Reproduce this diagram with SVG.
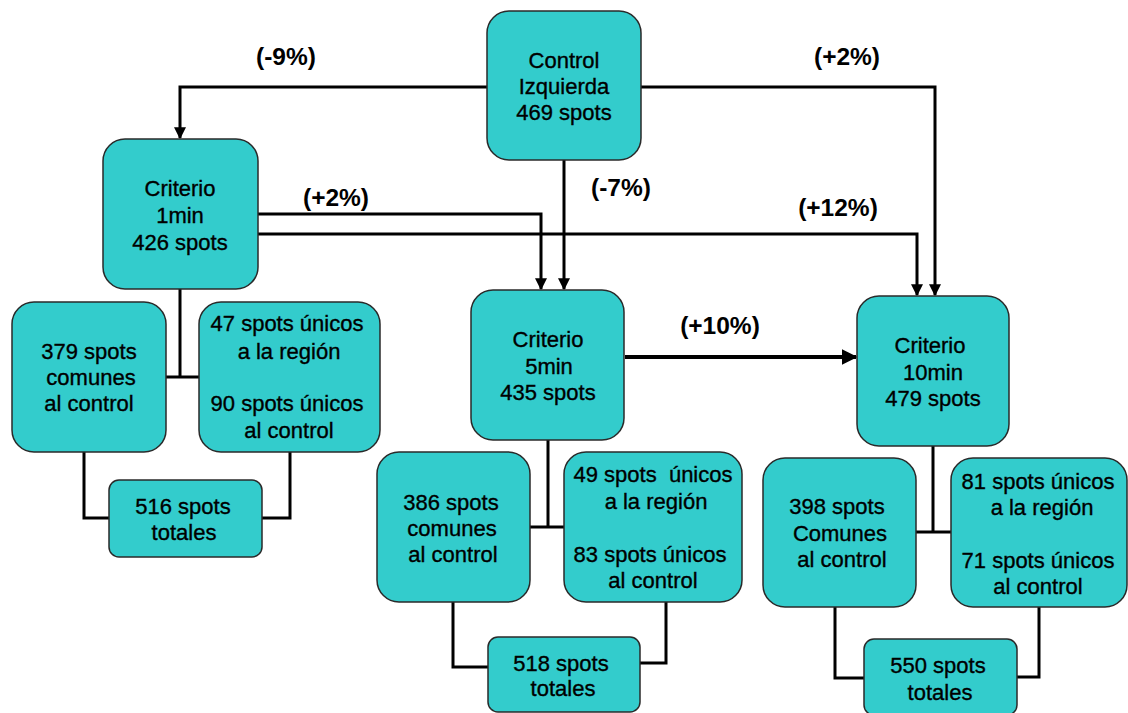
<svg xmlns="http://www.w3.org/2000/svg" width="1128" height="713" viewBox="0 0 1128 713">
  <defs>
    <marker id="arrow" viewBox="0 0 10 10" refX="9" refY="5" markerWidth="4" markerHeight="4" orient="auto" markerUnits="strokeWidth">
      <path d="M0,0 L10,5 L0,10 z" fill="#000"/>
    </marker>
    <style>
      .box { fill: #33CCCC; stroke: #2a2a2a; stroke-width: 1.5; }
      .t { font-family: "Liberation Sans", Arial, sans-serif; font-size: 22px; fill: #000; stroke: #000; stroke-width: 0.35; text-anchor: middle; white-space: pre; }
      .pct { font-family: "Liberation Sans", Arial, sans-serif; font-size: 24.5px; font-weight: bold; fill: #000; text-anchor: middle; }
      .link { fill: none; stroke: #000; stroke-width: 3; }
      .flow { fill: none; stroke: #000; stroke-width: 3; marker-end: url(#arrow); }
    </style>
  </defs>
  <rect width="1128" height="713" fill="#fff"/>

  <!-- connectors -->
  <g id="connectors">
    <path class="flow" d="M487,87 H180 V138"/>
    <path class="flow" d="M641,87 H935 V295"/>
    <path class="flow" d="M564,160 V289"/>
    <path class="flow" d="M258,214 H541 V289"/>
    <path class="flow" d="M252,234 H917 V295"/>
    <path class="flow" d="M625,357 H856" style="stroke-width:4"/>

    <path class="link" d="M180,289 V377 M166,377 H199"/>
    <path class="link" d="M84,452 V518 H109 M290,452 V518 H262"/>

    <path class="link" d="M548,440 V527 M530,527 H564"/>
    <path class="link" d="M453,602 V667 H488 M666,602 V663 H640"/>

    <path class="link" d="M933,446 V532 M916,532 H951"/>
    <path class="link" d="M835,607 V678 H864 M1039,607 V677 H1017"/>
  </g>

  <!-- percentage labels -->
  <g id="labels">
    <text class="pct" x="286" y="65">(-9%)</text>
    <text class="pct" x="847" y="65">(+2%)</text>
    <text class="pct" x="621" y="196">(-7%)</text>
    <text class="pct" x="336" y="206">(+2%)</text>
    <text class="pct" x="838" y="216">(+12%)</text>
    <text class="pct" x="720" y="334">(+10%)</text>
  </g>

  <g id="control">
    <rect class="box" x="487" y="11" width="154" height="149" rx="22"/>
    <text class="t" x="564" y="68">Control</text>
    <text class="t" x="564" y="94">Izquierda</text>
    <text class="t" x="564" y="120">469 spots</text>
  </g>

  <g id="criterio-1min">
    <rect class="box" x="103" y="139" width="155" height="150" rx="22"/>
    <text class="t" x="180" y="196">Criterio</text>
    <text class="t" x="180" y="223">1min</text>
    <text class="t" x="180" y="250">426 spots</text>
  </g>

  <g id="criterio-5min">
    <rect class="box" x="471" y="290" width="153" height="150" rx="22"/>
    <text class="t" x="548" y="347">Criterio</text>
    <text class="t" x="549" y="374">5min</text>
    <text class="t" x="548" y="400">435 spots</text>
  </g>

  <g id="criterio-10min">
    <rect class="box" x="857" y="296" width="152" height="150" rx="22"/>
    <text class="t" x="930" y="353">Criterio</text>
    <text class="t" x="933" y="380">10min</text>
    <text class="t" x="933" y="406">479 spots</text>
  </g>

  <g id="comunes-1min">
    <rect class="box" x="12" y="302" width="154" height="150" rx="22"/>
    <text class="t" x="89" y="359">379 spots</text>
    <text class="t" x="91" y="385">comunes</text>
    <text class="t" x="89" y="411">al control</text>
  </g>

  <g id="unicos-1min">
    <rect class="box" x="199" y="302" width="181" height="150" rx="22"/>
    <text class="t" x="287" y="331">47 spots únicos</text>
    <text class="t" x="289" y="359">a la región</text>
    <text class="t" x="287" y="411">90 spots únicos</text>
    <text class="t" x="289" y="438">al control</text>
  </g>

  <g id="totales-1min">
    <rect class="box" x="109" y="480" width="153" height="77" rx="10"/>
    <text class="t" x="183" y="514">516 spots</text>
    <text class="t" x="184" y="540">totales</text>
  </g>

  <g id="comunes-5min">
    <rect class="box" x="377" y="452" width="153" height="150" rx="22"/>
    <text class="t" x="451" y="510">386 spots</text>
    <text class="t" x="452" y="536">comunes</text>
    <text class="t" x="453" y="562">al control</text>
  </g>

  <g id="unicos-5min">
    <rect class="box" x="564" y="452" width="178" height="150" rx="22"/>
    <text class="t" x="653" y="482" xml:space="preserve">49 spots  únicos</text>
    <text class="t" x="656" y="509">a la región</text>
    <text class="t" x="650" y="562">83 spots únicos</text>
    <text class="t" x="653" y="588">al control</text>
  </g>

  <g id="totales-5min">
    <rect class="box" x="488" y="637" width="152" height="75" rx="10"/>
    <text class="t" x="561" y="671">518 spots</text>
    <text class="t" x="563" y="696">totales</text>
  </g>

  <g id="comunes-10min">
    <rect class="box" x="763" y="458" width="153" height="149" rx="22"/>
    <text class="t" x="837" y="514">398 spots</text>
    <text class="t" x="840" y="541">Comunes</text>
    <text class="t" x="842" y="567">al control</text>
  </g>

  <g id="unicos-10min">
    <rect class="box" x="951" y="458" width="176" height="149" rx="22"/>
    <text class="t" x="1038" y="489">81 spots únicos</text>
    <text class="t" x="1042" y="515">a la región</text>
    <text class="t" x="1038" y="568">71 spots únicos</text>
    <text class="t" x="1038" y="594">al control</text>
  </g>

  <g id="totales-10min">
    <rect class="box" x="864" y="639" width="153" height="76" rx="10"/>
    <text class="t" x="938" y="673">550 spots</text>
    <text class="t" x="940" y="700">totales</text>
  </g>
</svg>
